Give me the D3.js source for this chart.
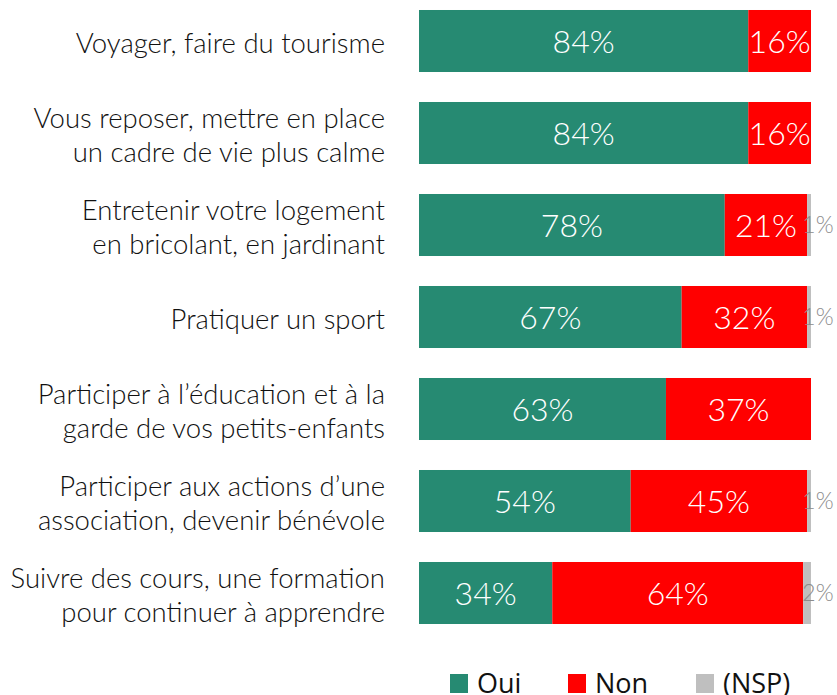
<!DOCTYPE html>
<html lang="fr">
  <head>
    <meta charset="utf-8" />
    <title>Activités</title>
    <script src="https://d3js.org/d3.v7.min.js"></script>
    <style>
      body { margin: 0; background: #fff; }
      svg { display: block; }
      .cat { font-family: 'Lato', sans-serif; font-weight: 300; font-size: 27.5px; fill: #111; }
      .val { font-family: 'Lato', sans-serif; font-weight: 300; font-size: 32px; fill: #fff; }
      .nsp { font-family: 'Lato', sans-serif; font-weight: 300; font-size: 23px; fill: #8c8c8c; }
      .leg { font-family: 'Open Sans', sans-serif; font-size: 27px; fill: #111; }
    </style>
  </head>
  <body>
    <svg width="837" height="695"></svg>
    <script>

    var categories = [
      ["Voyager, faire du tourisme"],
      ["Vous reposer, mettre en place", "un cadre de vie plus calme"],
      ["Entretenir votre logement", "en bricolant, en jardinant"],
      ["Pratiquer un sport"],
      ["Participer à l\u2019éducation et à la", "garde de vos petits-enfants"],
      ["Participer aux actions d\u2019une", "association, devenir bénévole"],
      ["Suivre des cours, une formation", "pour continuer à apprendre"]
    ];
    var oui = [84, 84, 78, 67, 63, 54, 34];
    var non = [16, 16, 21, 32, 37, 45, 64];
    var nsp = [0, 0, 1, 1, 0, 1, 2];
    var seriesNames = ["Oui", "Non", "(NSP)"];

    var colours = ["#268a72", "#ff0000", "#bfbfbf"];

    var svg = d3.select("svg");

    var x = d3.scaleLinear().domain([0, 100]).range([419, 811]);
    var y = d3.scaleBand().domain(d3.range(categories.length))
        .range([-5, 639]).paddingInner(0.326).paddingOuter(0.163);

    var rows = categories.map(function(c, i) {
      return {i: i, label: c, parts: [oui[i], non[i], nsp[i]]};
    });

    var row = svg.selectAll(".row")
        .data(rows)
        .enter().append("g")
        .attr("class", "row")
        .attr("transform", function(d) { return "translate(0," + y(d.i) + ")"; });

    row.each(function(d) {
      var g = d3.select(this), start = 0;
      d.parts.forEach(function(v, k) {
        if (v > 0) {
          g.append("rect")
            .attr("x", x(start))
            .attr("y", 0)
            .attr("width", x(start + v) - x(start))
            .attr("height", y.bandwidth())
            .attr("fill", colours[k]);
          if (k < 2) {
            g.append("text")
              .attr("class", "val")
              .attr("x", (x(start) + x(start + v)) / 2)
              .attr("y", y.bandwidth() / 2)
              .attr("dy", "0.36em")
              .attr("text-anchor", "middle")
              .text(v + "%");
          } else {
            g.append("text")
              .attr("class", "nsp")
              .attr("x", x(start + v) + 7)
              .attr("y", y.bandwidth() / 2)
              .attr("dy", "0.36em")
              .attr("text-anchor", "middle")
              .text(v + "%");
          }
        }
        start += v;
      });

      var n = d.label.length;
      g.append("text")
        .attr("class", "cat")
        .attr("text-anchor", "end")
        .selectAll("tspan")
        .data(d.label)
        .enter().append("tspan")
        .attr("x", 385)
        .attr("y", function(t, j) { return y.bandwidth() / 2 + 2.5 + (j - (n - 1) / 2) * 34; })
        .attr("dy", "0.36em")
        .text(function(t) { return t; });
    });

    var legendX = [450, 568, 696];
    var legend = svg.selectAll(".legend")
        .data(seriesNames)
        .enter().append("g")
        .attr("class", "legend")
        .attr("transform", function(d, i) { return "translate(" + legendX[i] + ",674)"; });

    legend.append("rect")
        .attr("width", 18).attr("height", 19)
        .attr("fill", function(d, i) { return colours[i]; });

    legend.append("text")
        .attr("class", "leg")
        .attr("x", 27)
        .attr("y", 19)
        .text(function(d) { return d; });

    </script>
  </body>
</html>
